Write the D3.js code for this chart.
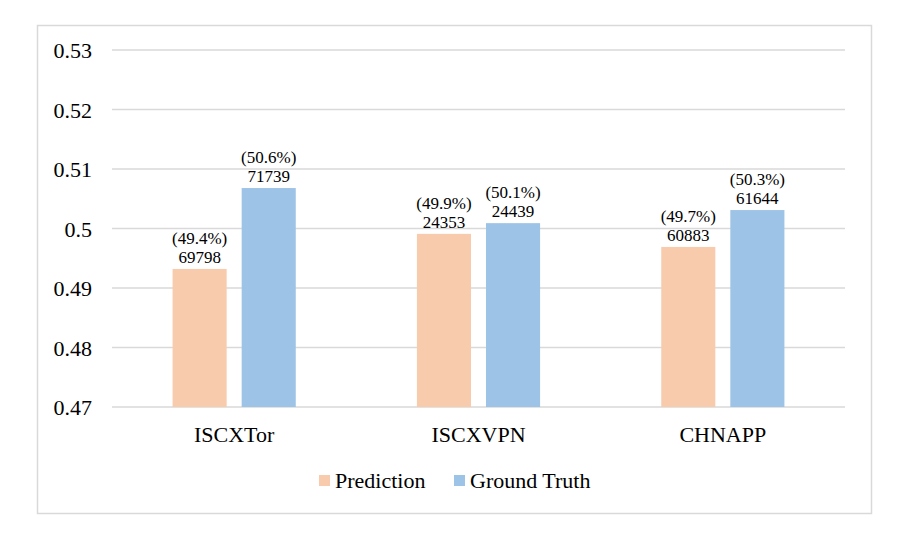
<!DOCTYPE html>
<html>
<head>
<meta charset="utf-8">
<script src="https://cdn.jsdelivr.net/npm/d3@7"></script>
<style>
  body { margin: 0; background: #fff; }
</style>
</head>
<body>
<script>
// data
const categories = ["ISCXTor", "ISCXVPN", "CHNAPP"];
const series = ["Prediction", "Ground Truth"];
const predValues = [0.4932, 0.4991, 0.4969];
const truthValues = [0.5068, 0.5009, 0.5031];
const predCounts = ["69798", "24353", "60883"];
const truthCounts = ["71739", "24439", "61644"];
const predPct = ["(49.4%)", "(49.9%)", "(49.7%)"];
const truthPct = ["(50.6%)", "(50.1%)", "(50.3%)"];
const yTicks = [0.47, 0.48, 0.49, 0.5, 0.51, 0.52, 0.53];

const colors = { "Prediction": "#f8cbad", "Ground Truth": "#9dc3e6" };
const fontName = "Times New Roman";

const w = 906, h = 545;
const svg = d3.select("body").append("svg").attr("width", w).attr("height", h);

// outer frame
svg.append("rect")
  .attr("x", 37.5).attr("y", 25.5)
  .attr("width", 834).attr("height", 488)
  .attr("fill", "#fff").attr("stroke", "#d9d9d9").attr("stroke-width", 1.5);

const plotLeft = 112, plotRight = 845, plotTop = 50, plotBottom = 407;

const y = d3.scaleLinear().domain([0.47, 0.53]).range([plotBottom, plotTop]);
const x0 = d3.scaleBand().domain(categories).range([plotLeft, plotRight]);
const x1 = d3.scaleBand().domain(series).range([0, x0.bandwidth()])
  .paddingInner(0.217).paddingOuter(0.877);

// gridlines
svg.append("g").selectAll("line").data(yTicks).enter().append("line")
  .attr("x1", plotLeft).attr("x2", plotRight)
  .attr("y1", d => y(d)).attr("y2", d => y(d))
  .attr("stroke", "#d9d9d9").attr("stroke-width", 1.3);

// y tick labels
svg.append("g").selectAll("text").data(yTicks).enter().append("text")
  .attr("x", 92).attr("y", d => y(d) + 8)
  .attr("text-anchor", "end")
  .attr("font-family", fontName)
  .attr("font-size", 22)
  .text(d => String(+d.toFixed(2)));

const rows = categories.map((c, i) => ({
  cat: c,
  bars: [
    { s: "Prediction", v: predValues[i], n: predCounts[i], p: predPct[i] },
    { s: "Ground Truth", v: truthValues[i], n: truthCounts[i], p: truthPct[i] }
  ]
}));

const groups = svg.append("g").selectAll("g").data(rows).enter().append("g")
  .attr("transform", d => "translate(" + x0(d.cat) + ",0)");

groups.selectAll("rect").data(d => d.bars).enter().append("rect")
  .attr("x", d => x1(d.s)).attr("width", x1.bandwidth())
  .attr("y", d => y(d.v)).attr("height", d => plotBottom - y(d.v))
  .attr("fill", d => colors[d.s]);

groups.selectAll("text.n").data(d => d.bars).enter().append("text")
  .attr("class", "n")
  .attr("x", d => x1(d.s) + x1.bandwidth() / 2)
  .attr("y", d => y(d.v) - 6)
  .attr("text-anchor", "middle")
  .attr("font-family", fontName)
  .attr("font-size", 17)
  .text(d => d.n);

groups.selectAll("text.p").data(d => d.bars).enter().append("text")
  .attr("class", "p")
  .attr("x", d => x1(d.s) + x1.bandwidth() / 2)
  .attr("y", d => y(d.v) - 25)
  .attr("text-anchor", "middle")
  .attr("font-family", fontName)
  .attr("font-size", 17)
  .text(d => d.p);

// category labels
svg.append("g").selectAll("text").data(categories).enter().append("text")
  .attr("x", d => x0(d) + x0.bandwidth() / 2).attr("y", 442)
  .attr("text-anchor", "middle")
  .attr("font-family", fontName)
  .attr("font-size", 22)
  .text(d => d);

// legend
const legendX = [319, 454];
const legend = svg.append("g").selectAll("g").data(series).enter().append("g")
  .attr("transform", (d, i) => "translate(" + legendX[i] + ",475)");
legend.append("rect").attr("width", 11).attr("height", 11).attr("fill", d => colors[d]);
legend.append("text").attr("x", 16).attr("y", 12.5)
  .attr("font-family", fontName)
  .attr("font-size", 22)
  .text(d => d);
</script>
</body>
</html>
